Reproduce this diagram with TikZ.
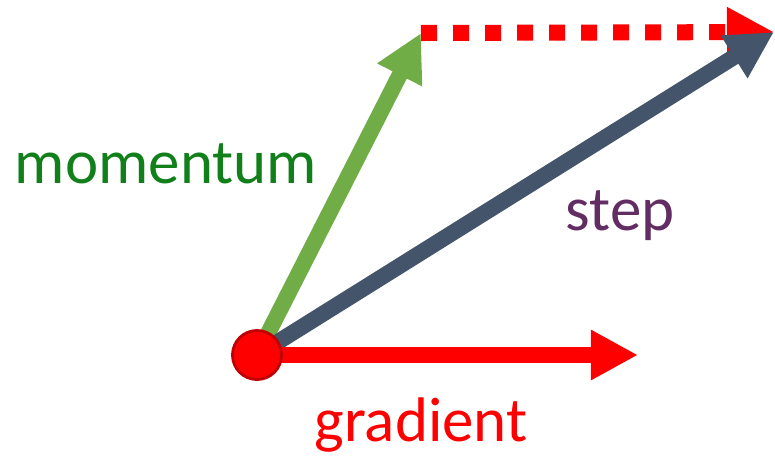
\documentclass[tikz,border=0pt]{standalone}
\usepackage{fontspec}
\setmainfont{Carlito}
\usetikzlibrary{arrows.meta}
\definecolor{momgreen}{HTML}{70AD47}
\definecolor{momtext}{HTML}{12801A}
\definecolor{stepgray}{HTML}{44546A}
\definecolor{steptext}{HTML}{612D62}
\definecolor{gradred}{HTML}{FF0000}
\definecolor{gradrim}{HTML}{C00000}
\tikzset{
  vec/.style={line width=0.16cm, -{Triangle[length=0.47cm, width=0.47cm]}},
  lbl/.style={font=\fontsize{17.9}{21}\selectfont, anchor=base, inner sep=0pt},
  dot/.style={circle, fill=gradred, draw=gradrim, line width=0.8pt, minimum size=0.49cm, inner sep=0pt},
}

\begin{document}
\begin{tikzpicture}[x=0.01cm, y=-0.01cm]
    \useasboundingbox (0,0) rectangle (775,457);
    \coordinate (mtip) at (421,33);
    \coordinate (stip) at (774,32);
    \coordinate (gtip) at (638,355);
    \coordinate (org) at (257,355);
    % vectors
    \draw[vec, color=momgreen] (org) -- (mtip);
    \draw[vec, color=gradred, dash pattern=on 0.16cm off 0.16cm] (mtip) -- (stip);
    \draw[vec, color=stepgray] (org) -- (stip);
    \draw[vec, color=gradred] (org) -- (gtip);
    \node[dot] (pt) at (org) {};
    % labels
    \node[lbl, text=momtext] (mom) at (166,183) {momentum};
    \node[lbl, text=steptext] (stp) at (620,230) {step};
    \node[lbl, text=gradred] (grd) at (421,441) {gradient};
\end{tikzpicture}
\end{document}
